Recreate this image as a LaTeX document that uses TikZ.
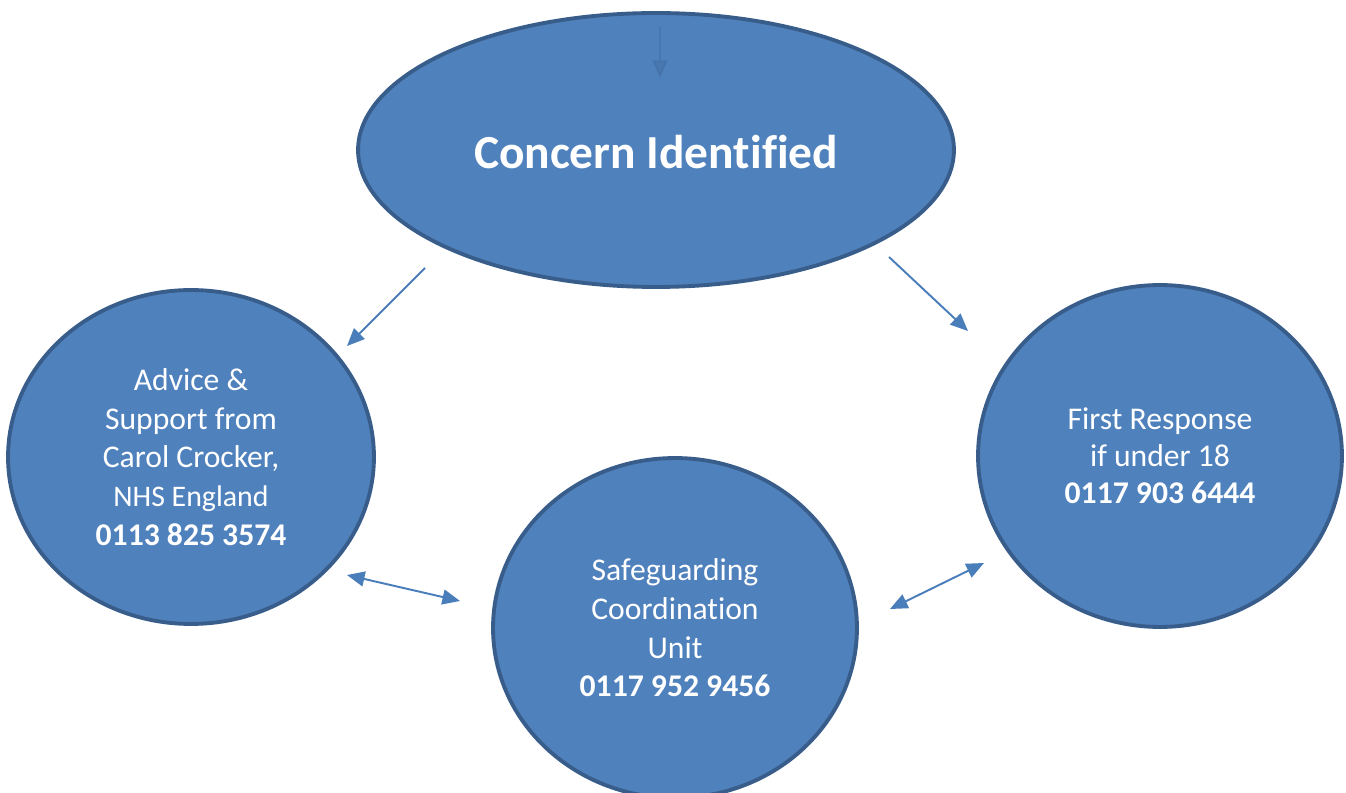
\documentclass[tikz,border=0pt]{standalone}
\usepackage{fontspec}
\setmainfont{Carlito}[Ligatures=NoCommon]
\usetikzlibrary{shapes.geometric,arrows.meta}

\definecolor{boxblue}{HTML}{4F81BD}
\definecolor{edgeblue}{HTML}{385D8A}
\definecolor{arrowblue}{HTML}{4A7EBB}

\tikzset{
  bubble/.style={draw=edgeblue, fill=boxblue, ellipse, line width=2.2pt,
    text=white, align=center, inner sep=0pt},
  link/.style={arrowblue, line width=1.1pt, -{Triangle[length=10pt,width=8.5pt]}},
  twolink/.style={arrowblue, line width=1.1pt, {Triangle[length=10pt,width=8.5pt]}-{Triangle[length=10pt,width=8.5pt]}},
}

\begin{document}
\begin{tikzpicture}[x=0.02cm, y=-0.02cm]
          \clip (0,0) rectangle (1346,793);
          \fill[white] (0,0) rectangle (1346,793);

          \node[bubble, minimum width=11.92cm, minimum height=5.48cm] (concern) at (656,150) {};
          \node[bubble, draw=none, fill=none, font=\bfseries\fontsize{27}{32}\selectfont] (concerntext) at (656,152) {Concern Identified};

          \node[bubble, minimum width=7.32cm, minimum height=6.68cm,
                font=\fontsize{18}{22}\selectfont] (advice) at (191,457)
                {Advice \&\\Support from\\Carol Crocker,\\{\fontsize{17}{22}\selectfont NHS England}\\\textbf{0113 825 3574}};

          \node[bubble, minimum width=7.28cm, minimum height=6.84cm,
                font=\fontsize{18}{21}\selectfont] (response) at (1160,456)
                {First Response\\if under 18\\\textbf{0117 903 6444}};

          \node[bubble, minimum width=7.28cm, minimum height=6.8cm,
                font=\fontsize{18}{22}\selectfont] (unit) at (675,628)
                {Safeguarding\\Coordination\\Unit\\\textbf{0117 952 9456}};

          % arrow ends
          \coordinate (cl) at (425,268);
          \coordinate (al) at (347,346);
          \coordinate (cr) at (889,257);
          \coordinate (ar) at (968,331);
          \coordinate (ab) at (347,575);
          \coordinate (ua) at (460,601);
          \coordinate (ur) at (890,609);
          \coordinate (ru) at (984,563);
          \coordinate (t1) at (660,27);
          \coordinate (t2) at (660,78);

          \draw[link] (cl) -- (al);
          \draw[link] (cr) -- (ar);
          \draw[twolink] (ab) -- (ua);
          \draw[twolink] (ur) -- (ru);
          \draw[link, edgeblue, opacity=0.25] (t1) -- (t2);
      \end{tikzpicture}
\end{document}
